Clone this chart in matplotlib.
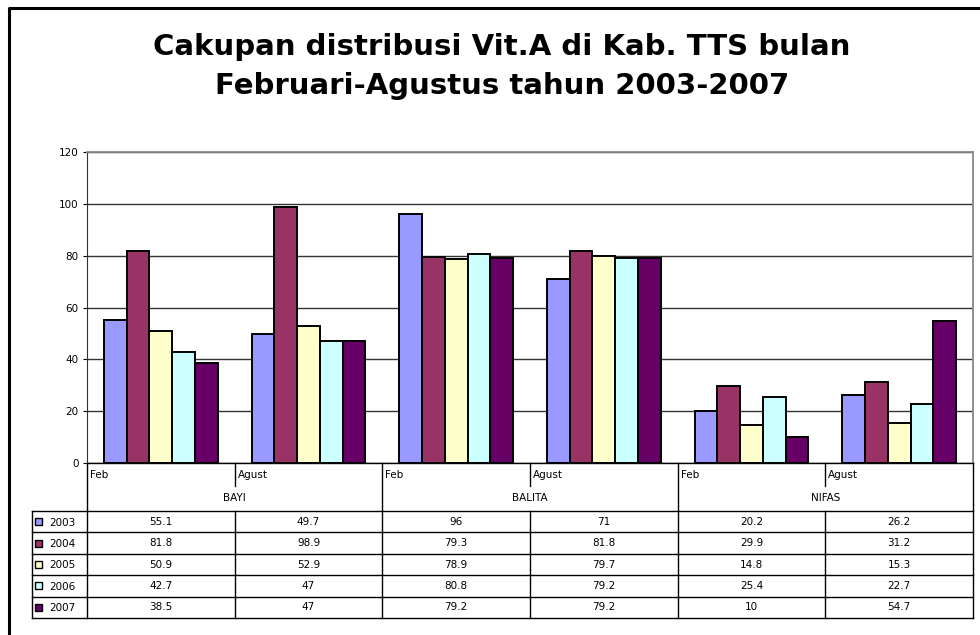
import matplotlib.pyplot as plt
import numpy as np
from matplotlib.lines import Line2D
from matplotlib.patches import Rectangle

plt.rcParams['font.family'] = ['DejaVu Sans']

# data
groups = ['BAYI', 'BALITA', 'NIFAS']
months = ['Feb', 'Agust']
years = ['2003', '2004', '2005', '2006', '2007']
v2003 = [55.1, 49.7, 96, 71, 20.2, 26.2]
v2004 = [81.8, 98.9, 79.3, 81.8, 29.9, 31.2]
v2005 = [50.9, 52.9, 78.9, 79.7, 14.8, 15.3]
v2006 = [42.7, 47, 80.8, 79.2, 25.4, 22.7]
v2007 = [38.5, 47, 79.2, 79.2, 10, 54.7]
series = [v2003, v2004, v2005, v2006, v2007]
colors = ['#9999FF', '#993366', '#FFFFCC', '#CCFFFF', '#660066']

W, H = 980, 635
fs = 7.5
fig = plt.figure(figsize=(9.8, 6.35), dpi=100)

def fx(px):
    return px / W

def fy(py):
    return 1 - py / H

# outer chart frame (only left and top visible)
fig.add_artist(Line2D([fx(9), fx(9), fx(985)], [fy(640), fy(8), fy(8)],
                      color='black', lw=2.2, transform=fig.transFigure))

fig.text(fx(502), fy(47), 'Cakupan distribusi Vit.A di Kab. TTS bulan',
         ha='center', va='center', fontsize=21, fontweight='bold')
fig.text(fx(502), fy(86), 'Februari-Agustus tahun 2003-2007',
         ha='center', va='center', fontsize=21, fontweight='bold')

# main plot
x0, x1, ytop, ybot = 87, 973, 152, 463
ax = fig.add_axes([fx(x0), fy(ybot), fx(x1 - x0), (ybot - ytop) / H])
ncat = len(v2003)
bw = 1 / 6.5
xs = np.arange(ncat) + 0.5
for k, (vals, c) in enumerate(zip(series, colors)):
    ax.bar(xs + (k - 2) * bw, vals, width=bw, color=c, edgecolor='black',
           linewidth=1.4, zorder=3)

ax.set_xlim(0, ncat)
ax.set_ylim(0, 120)
ax.set_yticks(range(0, 121, 20))
ax.set_xticks([])
ax.tick_params(axis='y', labelsize=fs, length=3, width=0.8, pad=3)
ax.grid(axis='y', color='#333333', lw=1, zorder=0)
for s in ['top', 'right']:
    ax.spines[s].set_color('#888888')
    ax.spines[s].set_linewidth(1.3)
ax.spines['left'].set_color('#333333')
ax.spines['bottom'].set_visible(False)

# data table under the plot
tb = 618
tab = fig.add_axes([fx(32), fy(tb), fx(x1 - 32), (tb - ybot) / H])
colw = (x1 - x0) / ncat
leg = (x0 - 32) / colw
tab.set_xlim(-leg, ncat)
tab.set_ylim(tb - ybot, 0)
tab.axis('off')

def px2x(px):
    return (px - x0) / colw

def seg(xa, ya):
    tab.plot(xa, ya, color='black', lw=1, clip_on=False)

hrow = 511 - ybot
bot = tb - ybot
# horizontal lines
seg([0, ncat], [0, 0])
rows_y = [hrow + i * (bot - hrow) / 5 for i in range(6)]
for yy in rows_y:
    seg([-leg, ncat], [yy, yy])
# vertical lines
seg([-leg, -leg], [hrow, bot])
for g in range(len(groups) + 1):
    seg([2 * g, 2 * g], [0, bot])
for g in range(len(groups)):
    seg([2 * g + 1, 2 * g + 1], [0, 486 - ybot])
    seg([2 * g + 1, 2 * g + 1], [hrow, bot])

# category labels
for i in range(ncat):
    tab.text(i + 0.02, 475 - ybot, months[i % 2], ha='left', va='center',
             fontsize=fs)
for g, name in enumerate(groups):
    tab.text(2 * g + 1, 498 - ybot, name, ha='center', va='center', fontsize=fs)

# rows with legend keys
for r, (yr, vals, c) in enumerate(zip(years, series, colors)):
    yc = (rows_y[r] + rows_y[r + 1]) / 2
    tab.add_patch(Rectangle((px2x(35), yc - 3.5), px2x(42) - px2x(35), 7,
                            facecolor=c, edgecolor='black', lw=1))
    tab.text(px2x(49), yc + 1, yr, ha='left', va='center', fontsize=fs)
    for i, v in enumerate(vals):
        tab.text(i + 0.5, yc, f'{v:g}', ha='center', va='center', fontsize=fs)

fig.savefig('out.png', dpi=100)
